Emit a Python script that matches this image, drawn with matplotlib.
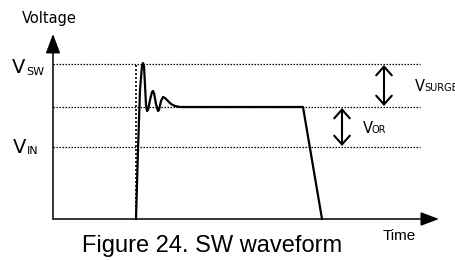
import matplotlib.pyplot as plt

# ==============================
# Datos (unidades del gráfico: tiempo / voltaje)
# ==============================
t_wave = [83, 85, 87, 89, 90, 91, 92, 93, 94, 95, 97, 99, 100, 101, 103,
          105, 106, 108, 110, 112, 115, 118, 122, 127, 250, 269]
v_wave = [0, 69, 129, 153, 156, 153, 134, 114, 108, 109, 119, 127, 128, 126, 115,
          108, 109, 118, 122, 121, 118, 115, 113, 112, 112, 0]

v_sw = 155
v_or_level = 112
v_in = 72
t_switch = 83
t_end_dotted = 367
t_arrow_surge = 331
t_arrow_or = 289

# ==============================
# Figura
# ==============================
fig = plt.figure(figsize=(4.56, 2.6), dpi=100)
ax = fig.add_axes([0, 0, 1, 1])
ax.set_xlim(-53, 403)
ax.set_ylim(-41, 219)
ax.axis('off')

# Ejes con flechas
ax.annotate('', xy=(0, 185), xytext=(0, 0),
            arrowprops=dict(arrowstyle='-|>,head_length=0.85,head_width=0.32',
                            lw=1.1, color='black', mutation_scale=14,
                            shrinkA=0, shrinkB=0))
ax.annotate('', xy=(386, 0), xytext=(0, 0),
            arrowprops=dict(arrowstyle='-|>,head_length=0.8,head_width=0.3',
                            lw=1.1, color='black', mutation_scale=14,
                            shrinkA=0, shrinkB=0))

# Líneas punteadas de referencia
for lvl in [v_sw, v_or_level, v_in]:
    ax.plot([0, t_end_dotted], [lvl, lvl], color='black', lw=0.9,
            linestyle=(0, (1.2, 1.2)))
ax.plot([t_switch, t_switch], [0, v_sw], color='black', lw=1.2,
        linestyle=(0, (1.2, 1.2)))

# Forma de onda
ax.plot(t_wave, v_wave, color='black', lw=1.6, solid_joinstyle='round')

# Flechas dobles
ax.annotate('', xy=(t_arrow_surge, v_sw - 1), xytext=(t_arrow_surge, v_or_level + 1),
            arrowprops=dict(arrowstyle='<->,head_length=0.45,head_width=0.4',
                            lw=1.5, color='black', mutation_scale=14,
                            shrinkA=0, shrinkB=0))
ax.annotate('', xy=(t_arrow_or, v_or_level - 1), xytext=(t_arrow_or, v_in + 1),
            arrowprops=dict(arrowstyle='<->,head_length=0.45,head_width=0.4',
                            lw=1.5, color='black', mutation_scale=14,
                            shrinkA=0, shrinkB=0))

# Etiquetas
ax.text(-41, 146, 'V', fontsize=14, va='baseline', ha='left')
ax.text(-27, 144, 'SW', fontsize=8, va='baseline', ha='left')
ax.text(-40, 66, 'V', fontsize=14, va='baseline', ha='left')
ax.text(-26, 65, 'IN', fontsize=8, va='baseline', ha='left')
ax.text(362, 128, 'V', fontsize=10.5, va='baseline', ha='left', clip_on=False)
ax.text(371, 128, 'SURGE', fontsize=7, va='baseline', ha='left', clip_on=False)
ax.text(310, 86, 'V', fontsize=10.5, va='baseline', ha='left')
ax.text(319, 86, 'OR', fontsize=7, va='baseline', ha='left')

ax.text(-31, 196, 'Voltage', fontsize=10.5, va='baseline', ha='left')
ax.text(330, -21, 'Time', fontsize=11, va='baseline', ha='left',
        family='Liberation Sans')
ax.text(159, -33, 'Figure 24. SW waveform', fontsize=17, va='baseline',
        ha='center', family='Liberation Sans')

plt.savefig('out.png', dpi=100)
